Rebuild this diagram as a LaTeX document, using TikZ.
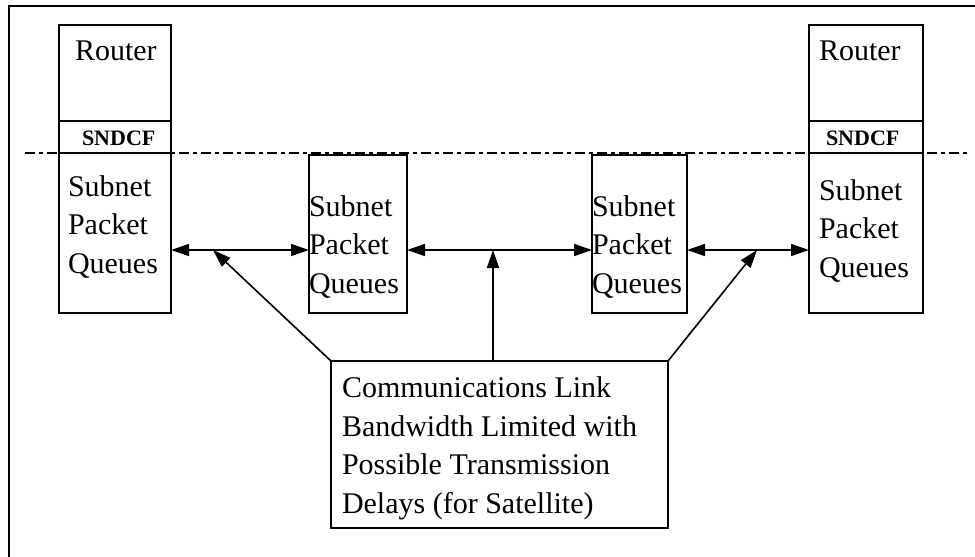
\documentclass[tikz,border=0pt]{standalone}
\usepackage{fontspec}
\setmainfont{Liberation Serif}
\usetikzlibrary{arrows.meta}

\begin{document}
\begin{tikzpicture}[x=1pt,y=-1pt,
  box/.style={draw,line width=2pt,inner sep=0pt,outer sep=0pt,rectangle},
  txt/.style={anchor=base west,inner sep=0pt,outer sep=0pt,align=left,
              font=\fontsize{30}{38.5}\selectfont},
  tag/.style={anchor=base west,inner sep=0pt,outer sep=0pt,
              font=\fontsize{22}{24}\selectfont\bfseries},
  link/.style={line width=1.6pt,{Triangle[length=18pt,width=12pt]}-{Triangle[length=18pt,width=12pt]}},
  feed/.style={line width=1.6pt,-{Triangle[length=18pt,width=12pt]}},
  layer/.style={line width=2.4pt,dash pattern=on 10pt off 4pt on 4pt off 4pt}
]
\useasboundingbox (0,0) rectangle (975,557);

% page frame (top and left edges)
\draw[line width=2.2pt] (9,557) -- (9,6) -- (975,6);

% end-system stacks: router, SNDCF, subnet queues
\node[box,minimum width=112pt,minimum height=96pt]  (r1)  at (115,73)  {};
\node[box,minimum width=112pt,minimum height=32pt]  (s1)  at (115,137) {};
\node[box,minimum width=112pt,minimum height=160pt] (q1)  at (115,233) {};

\node[box,minimum width=114pt,minimum height=96pt]  (r4)  at (866,73)  {};
\node[box,minimum width=114pt,minimum height=32pt]  (s4)  at (866,137) {};
\node[box,minimum width=114pt,minimum height=160pt] (q4)  at (866,233) {};

% intermediate subnet queues
\node[box,minimum width=98pt,minimum height=158pt]  (q2)  at (358,234)   {};
\node[box,minimum width=95pt,minimum height=158pt]  (q3)  at (639.5,234) {};

% link description
\node[box,minimum width=337pt,minimum height=167pt] (cl)  at (499.5,444.5) {};

% layer boundary
\draw[layer] (25,153) -- (970,153);

% labels (base anchor sits on the last line of a multi-line label)
\node[txt] (t-r1) at (75,60)  {Router};
\node[txt] (t-r4) at (819,60) {Router};
\node[tag] (t-s1) at (82,145)  {SNDCF};
\node[tag] (t-s4) at (826,145) {SNDCF};
\node[txt] (t-q1) at (68,273)  {Subnet\\Packet\\Queues};
\node[txt] (t-q2) at (309,293) {Subnet\\Packet\\Queues};
\node[txt] (t-q3) at (592,293) {Subnet\\Packet\\Queues};
\node[txt] (t-q4) at (819,277) {Subnet\\Packet\\Queues};
\node[txt] (t-cl) at (342,513)
  {Communications Link\\Bandwidth Limited with\\Possible Transmission\\Delays (for Satellite)};

% links between queues
\coordinate (m1) at (213,250);
\coordinate (m2) at (493,250);
\coordinate (m3) at (757,250);
\draw[link] (q1.east |- m1) -- (q2.west |- m1);
\draw[link] (q2.east |- m2) -- (q3.west |- m2);
\draw[link] (q3.east |- m3) -- (q4.west |- m3);

% pointers from the description to each link
\draw[feed] (cl.north west) -- (m1);
\draw[feed] (cl.north -| m2) -- (m2);
\draw[feed] (cl.north east) -- (m3);
\end{tikzpicture}
\end{document}
